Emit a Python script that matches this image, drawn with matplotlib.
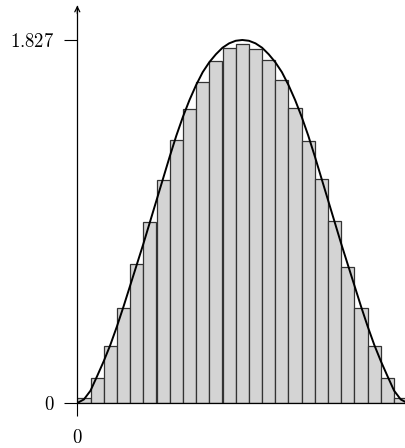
import numpy as np
import matplotlib
matplotlib.use("Agg")
import matplotlib.pyplot as plt

plt.rcParams["mathtext.fontset"] = "cm"
plt.rcParams["font.family"] = ["DejaVu Serif"]

# histogram bar heights (25 bins on [0, 1])
bar_heights = [0.025, 0.126, 0.287, 0.480, 0.698, 0.912, 1.122, 1.322, 1.481,
               1.616, 1.720, 1.785, 1.808, 1.783, 1.725, 1.624, 1.485, 1.320,
               1.126, 0.917, 0.686, 0.477, 0.285, 0.124, 0.025]

# density curve, read every 0.02 from the left half, mirrored on the right
curve_half = [0.000, 0.018, 0.062, 0.135, 0.210, 0.292, 0.385, 0.485, 0.590,
              0.695, 0.800, 0.910, 1.020, 1.130, 1.240, 1.345, 1.440, 1.525,
              1.600, 1.665, 1.715, 1.755, 1.788, 1.810, 1.823, 1.827]
curve_y = curve_half + curve_half[-2::-1]
curve_x = np.linspace(0, 1, len(curve_y))

y_ticks = [0, 1.827]
y_ticklabels = ["$0$", "$1.827$"]
x_ticks = [0]
x_ticklabels = ["$0$"]

n_bins = len(bar_heights)
bin_w = 1.0 / n_bins
bin_left = np.arange(n_bins) * bin_w

fig = plt.figure(figsize=(4.05, 4.48), dpi=100)
ax = fig.add_axes([77.3 / 405, 45 / 448, 330 / 405, 397.4 / 448])

ax.bar(bin_left, bar_heights, width=bin_w, align="edge",
       color="#d4d4d4", edgecolor="#333333", linewidth=0.9, zorder=2)
ax.plot(curve_x, curve_y, color="black", linewidth=1.4, zorder=3)

ax.set_xlim(0, 1)
ax.set_ylim(0, 2.0)

for s in ["top", "right"]:
    ax.spines[s].set_visible(False)
for s in ["left", "bottom"]:
    ax.spines[s].set_linewidth(0.9)
    ax.spines[s].set_zorder(4)

ax.set_yticks(y_ticks)
ax.set_yticklabels(y_ticklabels)
ax.set_xticks(x_ticks)
ax.set_xticklabels(x_ticklabels)
ax.tick_params(axis="both", direction="out", length=9.4, width=0.8,
               labelsize=13.5)
ax.tick_params(axis="y", pad=7)
ax.tick_params(axis="x", pad=9)

# arrow at top of y axis
ax.annotate("", xy=(0, 2.0), xytext=(0, 1.96),
            arrowprops=dict(arrowstyle="->,head_length=0.35,head_width=0.18",
                            lw=0.9, color="black", shrinkA=0, shrinkB=0),
            annotation_clip=False)

fig.savefig("out.png", dpi=100)
